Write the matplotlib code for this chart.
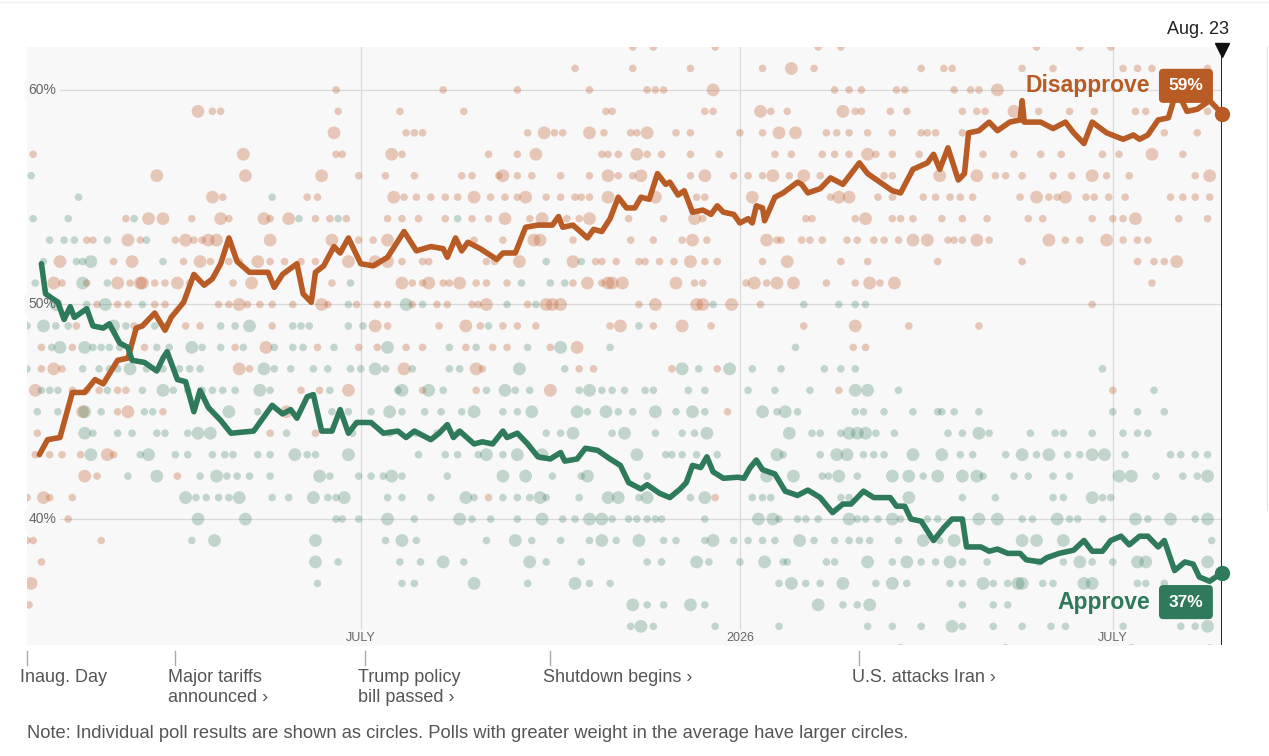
import numpy as np
import matplotlib.pyplot as plt
import matplotlib.transforms as mtransforms
from matplotlib.lines import Line2D

plt.rcParams['font.family'] = ['Liberation Sans', 'DejaVu Sans']

# --- 1. Data ---
start = np.datetime64('2025-01-20')
end_date = np.datetime64('2026-08-23')

# polling averages (days since inauguration, percent)
dis_days = [6, 10, 16, 22, 28, 33, 37, 44, 49, 53, 56, 62, 67, 70, 76, 81, 86, 90, 94, 98,
            102, 108, 117, 120, 124, 131, 134, 138, 140, 144, 149, 152, 156, 162, 168, 175,
            183, 189, 196, 202, 204, 208, 211, 214, 220, 228, 231, 237, 242, 248, 255, 258,
            260, 265, 272, 275, 279, 283, 287, 291, 295, 298, 302, 306, 310, 312, 316, 319,
            323, 328, 332, 335, 338, 343, 346, 350, 352, 354, 357, 358, 363, 367, 374, 376,
            379, 385, 390, 396, 404, 408, 414, 420, 424, 430, 437, 440, 443, 447, 452, 455,
            457, 462, 467, 471, 477, 482, 483, 484, 492, 498, 504, 508, 513, 517, 524, 532,
            537, 540, 544, 549, 554, 558, 563, 568, 574, 580]
dis_vals = [43.0, 43.7, 43.8, 45.9, 45.9, 46.5, 46.3, 47.4, 47.5, 48.9, 49.0, 49.6, 48.8, 49.4,
            50.1, 51.4, 50.9, 51.2, 51.9, 53.1, 52.0, 51.5, 51.5, 50.8, 51.4, 51.9, 50.5, 50.1,
            51.5, 51.8, 52.7, 52.4, 53.1, 51.9, 51.8, 52.2, 53.4, 52.5, 52.7, 52.6, 52.2, 53.1,
            52.5, 52.9, 52.6, 52.1, 52.4, 52.4, 53.6, 53.7, 53.7, 54.1, 53.6, 53.7, 53.1, 53.5,
            53.4, 54.0, 55.0, 54.5, 54.5, 55.0, 54.9, 56.1, 55.6, 55.7, 55.1, 55.3, 54.3, 54.4,
            54.2, 54.6, 54.3, 54.2, 53.8, 54.0, 53.8, 54.6, 54.5, 53.9, 55.0, 55.2, 55.7, 55.6,
            55.2, 55.4, 55.9, 55.6, 56.6, 56.1, 55.7, 55.3, 55.2, 56.3, 56.6, 57.0, 56.3, 57.3,
            55.8, 56.1, 58.0, 58.1, 58.5, 58.1, 58.5, 58.6, 59.5, 58.5, 58.5, 58.2, 58.5, 58.0,
            57.5, 58.5, 58.0, 57.7, 57.9, 57.7, 57.9, 58.6, 58.7, 60.0, 59.0, 59.1, 59.5, 58.9]

app_days = [7, 9, 15, 18, 21, 23, 29, 32, 37, 40, 45, 49, 51, 57, 63, 66, 68, 73, 77, 81, 84,
            88, 94, 99, 110, 119, 124, 128, 131, 136, 139, 143, 148, 152, 156, 160, 167, 173,
            180, 184, 188, 196, 200, 204, 207, 210, 217, 221, 226, 231, 233, 238, 243, 248,
            254, 259, 261, 267, 271, 277, 283, 288, 292, 298, 301, 307, 312, 317, 320, 323,
            327, 330, 333, 338, 345, 348, 351, 354, 357, 363, 368, 374, 379, 385, 391, 396,
            400, 406, 411, 419, 422, 426, 429, 434, 440, 445, 449, 454, 456, 463, 467, 471,
            476, 482, 485, 492, 495, 501, 508, 513, 517, 522, 526, 531, 535, 540, 544, 549,
            552, 557, 562, 566, 569, 574, 580]
app_vals = [51.9, 50.5, 50.1, 49.3, 49.9, 49.4, 49.8, 49.0, 48.9, 49.1, 48.2, 48.0, 47.4, 47.3,
            46.9, 47.5, 47.8, 46.5, 46.4, 45.0, 46.0, 45.2, 44.6, 44.0, 44.1, 45.3, 44.9, 45.1,
            44.7, 45.7, 45.8, 44.1, 44.1, 45.1, 44.0, 44.5, 44.5, 44.0, 44.1, 43.8, 44.1, 43.7,
            44.0, 44.4, 43.8, 44.1, 43.5, 43.6, 43.5, 44.1, 43.8, 44.0, 43.5, 42.9, 42.8, 43.1,
            42.7, 42.8, 43.3, 43.2, 42.8, 42.5, 41.7, 41.4, 41.6, 41.2, 41.0, 41.4, 41.7, 42.5,
            42.4, 42.9, 42.2, 41.9, 41.95, 41.9, 42.4, 42.75, 42.3, 42.1, 41.3, 41.1, 41.35,
            41.0, 40.3, 40.7, 40.7, 41.3, 41.0, 41.0, 40.6, 40.6, 40.0, 39.9, 39.0, 39.6, 40.0,
            40.0, 38.7, 38.7, 38.5, 38.6, 38.4, 38.4, 38.1, 38.0, 38.2, 38.4, 38.55, 39.0, 38.5,
            38.5, 39.0, 39.2, 38.8, 39.2, 39.2, 38.7, 39.0, 37.6, 38.0, 37.9, 37.3, 37.1, 37.5]

# latest values shown in the labels
dis_latest = 59
app_latest = 37

# individual polls: percent -> (normal weight days, high weight days)
dis_polls = {
    62: ([294, 304, 334, 384, 395, 490, 511, 526], []),
    61: ([266, 294, 322, 357, 382, 434, 445, 449, 483, 498, 532, 539, 546, 573], [371]),
    60: ([150, 202, 238, 273, 301, 305, 309, 392, 399, 405, 422, 426, 450, 458, 462], [333, 471]),
    59: ([90, 94, 151, 181, 212, 281, 284, 329, 333, 361, 369, 402, 405, 419, 427, 454, 461,
          465, 491, 506, 518, 538, 543, 573], [83, 356, 396, 479]),
    58: ([184, 188, 192, 243, 256, 260, 280, 293, 296, 315, 322, 346, 357, 388, 393, 399, 408,
          420, 434, 437, 441, 454, 552, 568], [149, 251, 273, 301, 365, 373]),
    57: ([3, 150, 153, 182, 224, 238, 279, 282, 287, 301, 308, 322, 336, 363, 371, 386, 392,
          399, 412, 420, 433, 464, 479, 492, 502, 522, 530, 561], [105, 177, 247, 296, 408, 546]),
    56: ([161, 174, 188, 211, 216, 229, 238, 245, 259, 273, 287, 294, 322, 343, 350, 357, 370,
          385, 416, 420, 470, 475, 483, 498, 507, 524, 535, 567],
         [63, 106, 143, 231, 282, 298, 329, 362, 377, 443, 461, 517, 574]),
    55: ([95, 136, 141, 183, 189, 196, 203, 209, 225, 232, 238, 252, 259, 266, 269, 273, 325,
          329, 390, 413, 420, 435, 441, 448, 453, 459, 482, 496, 500, 514, 518, 525, 533, 555,
          561, 567, 574], [90, 178, 217, 242, 282, 305, 352, 394, 399, 490, 504]),
    54: ([48, 80, 98, 118, 140, 147, 155, 175, 182, 190, 203, 216, 224, 244, 262, 268, 292, 309,
          328, 378, 381, 402, 420, 424, 430, 444, 454, 466, 486, 493, 517, 527, 532, 559, 573],
         [59, 66, 94, 115, 127, 232, 250, 273, 324, 407, 538]),
    53: ([29, 32, 55, 72, 81, 85, 161, 168, 217, 231, 265, 293, 304, 318, 330, 364, 366, 376,
          380, 386, 398, 403, 411, 416, 423, 447, 450, 454, 467, 504, 511, 532, 539, 544],
         [49, 77, 88, 92, 118, 148, 175, 246, 249, 323, 359, 430, 437, 461, 496, 524]),
    52: ([42, 76, 89, 98, 103, 118, 125, 133, 140, 182, 192, 195, 223, 227, 276, 279, 286, 297,
          300, 307, 314, 329, 335, 357, 395, 408, 442, 483, 539, 547, 552],
         [16, 51, 84, 112, 156, 169, 175, 239, 265, 322, 369, 558]),
    51: ([17, 29, 50, 62, 67, 79, 100, 148, 187, 192, 202, 205, 218, 223, 233, 265, 279, 324,
          328, 349, 359, 388, 402, 414, 546],
         [13, 44, 55, 56, 73, 109, 182, 195, 210, 272, 282, 284, 289, 315, 353, 364, 372, 409, 421]),
    50: ([34, 44, 49, 62, 67, 93, 98, 107, 113, 119, 129, 146, 160, 170, 175, 187, 199, 204, 216,
          219, 243, 297, 356, 517], [103, 143, 223, 252, 255, 259, 305, 325, 328, 342]),
    49: ([24, 52, 67, 77, 84, 119, 175, 200, 220, 231, 238, 247, 283, 304, 332, 377, 428, 462],
         [169, 213, 288, 318, 402]),
    48: ([7, 22, 50, 57, 101, 141, 161, 170, 184, 192, 213, 226, 233, 254, 401, 407], [116, 267]),
    47: ([7, 17, 108, 221, 268, 275, 313, 335], [13, 103, 183, 218]),
    46: ([22, 29, 35, 44, 48, 133, 142, 192, 218, 394, 527], [4, 156, 254]),
    45: ([44, 66, 340], [27, 49, 126]),
    44: ([5, 118, 140], []),
    43: ([4, 11, 17, 26, 42], [39]),
    42: ([34, 73], [28]),
    41: ([0, 11, 22, 224, 334], [8]),
    40: ([20], []),
    39: ([0, 3, 36], []),
    38: ([7], []),
    37: ([], [2]),
    36: ([1], []),
}

app_polls = {
    56: ([2], []),
    55: ([25, 119], []),
    54: ([3, 20, 52, 132, 151, 209], []),
    53: ([11, 18, 23, 39, 58], []),
    52: ([8, 24, 27, 66, 252, 269], [31]),
    51: ([4, 39, 157, 240, 254, 261], [27]),
    50: ([29, 56, 156, 192, 233, 247, 333, 377, 394, 402, 407], [14, 38, 184]),
    49: ([0, 14, 20, 48, 62, 94, 101, 129, 133, 137, 156, 163, 224, 297], [8, 42, 108]),
    48: ([12, 32, 36, 40, 45, 63, 69, 85, 94, 105, 120, 129, 134, 149, 205, 218, 243, 283, 373],
         [16, 28, 80, 175, 259]),
    47: ([0, 27, 35, 40, 44, 58, 66, 74, 79, 84, 120, 128, 139, 146, 157, 162, 174, 187, 205,
          210, 261, 326, 352, 366, 387, 395, 402, 522], [50, 115, 169, 239, 318, 341]),
    46: ([7, 11, 15, 39, 56, 71, 78, 85, 90, 95, 101, 118, 147, 180, 202, 223, 237, 244, 268,
          279, 284, 290, 300, 304, 321, 329, 350, 363, 380, 423, 547],
         [66, 113, 182, 195, 232, 273, 402, 408]),
    45: ([5, 15, 36, 57, 61, 112, 148, 156, 167, 182, 193, 201, 211, 231, 238, 272, 287, 294,
          315, 329, 364, 374, 402, 406, 416, 430, 442, 444, 450, 462, 527, 539, 552],
         [28, 98, 176, 217, 245, 267, 281, 305, 323, 357, 368]),
    44: ([32, 44, 51, 63, 67, 78, 126, 158, 176, 189, 199, 209, 252, 259, 284, 305, 318, 324,
          381, 385, 395, 412, 421, 447, 454, 467, 487, 499, 503, 517, 532, 539, 544],
         [28, 83, 89, 265, 290, 330, 370, 399, 403, 407, 462]),
    43: ([55, 72, 78, 90, 96, 100, 112, 118, 136, 140, 190, 203, 209, 219, 231, 310, 313, 318,
          325, 335, 367, 385, 406, 411, 416, 453, 459, 475, 490, 505, 511, 533, 555, 560, 567, 573],
         [31, 59, 130, 156, 223, 238, 250, 296, 364, 393, 398, 430, 444, 483, 496, 517, 523]),
    42: ([49, 84, 97, 102, 108, 118, 147, 161, 167, 173, 182, 204, 255, 269, 301, 386, 389, 403,
          435, 464, 479, 486, 498, 506, 548, 561, 568],
         [63, 92, 142, 177, 231, 242, 272, 359, 372, 394, 420, 428, 442, 454, 461, 530, 536, 573]),
    41: ([82, 87, 93, 98, 119, 127, 146, 150, 175, 182, 196, 217, 231, 238, 244, 252, 268, 297,
          322, 352, 357, 361, 395, 399, 454, 470, 498, 503, 522, 526],
         [77, 103, 139, 154, 213, 249, 282, 287, 301, 329, 428, 517]),
    40: ([150, 153, 161, 188, 216, 225, 238, 260, 266, 284, 292, 296, 301, 305, 308, 329, 365,
          374, 378, 384, 403, 407, 413, 424, 437, 442, 483, 488, 506, 510, 522, 544, 567],
         [83, 106, 175, 210, 250, 273, 279, 355, 362, 399, 420, 462, 471, 500, 538, 555, 573]),
    39: ([80, 174, 189, 223, 245, 259, 273, 286, 309, 315, 329, 343, 350, 357, 363, 382, 392,
          399, 404, 409, 423, 443, 575],
         [91, 140, 182, 237, 279, 297, 333, 375, 435, 450, 483, 490, 503]),
    38: ([151, 181, 191, 212, 252, 269, 301, 308, 331, 346, 367, 369, 388, 392, 420, 434, 441,
          454, 466, 491, 503, 517, 527],
         [140, 202, 244, 325, 358, 408, 427, 448, 511, 539, 543, 573]),
    37: ([141, 182, 188, 243, 273, 283, 365, 378, 385, 412, 427, 448, 454, 469, 476, 493, 498,
          539, 543, 552], [217, 266, 371, 396, 420, 464, 481, 483, 513, 517]),
    36: ([301, 309, 329, 396, 403, 454, 469, 476], [294, 322, 384, 409]),
    35: ([293, 304, 334, 365, 408, 420, 434, 454, 469, 483, 497, 504, 532, 560, 567], [298, 449, 573]),
    34: ([424, 475, 536, 574], []),
}

y_ticks = [40, 50, 60]
month_marks = ['2025-07-01', '2026-01-01', '2026-07-01']
month_labels = ['JULY', '2026', 'JULY']

event_dates = ['2025-01-20', '2025-04-02', '2025-07-03', '2025-10-01', '2026-02-28']
event_labels = ['Inaug. Day', 'Major tariffs\nannounced ›', 'Trump policy\nbill passed ›',
                'Shutdown begins ›', 'U.S. attacks Iran ›']

note = ('Note: Individual poll results are shown as circles. '
        'Polls with greater weight in the average have larger circles.')

DIS = '#b85b24'
APP = '#2e7a5a'
BG = '#f8f8f8'


def day(s):
    return int((np.datetime64(s) - start) / np.timedelta64(1, 'D'))


last_day = day(end_date)

# --- 2. Figure ---
W, H = 1269, 756
fig = plt.figure(figsize=(W / 100, H / 100), dpi=100)
ax = fig.add_axes([27 / W, 1 - 645 / H, 1195 / W, 598 / H])
ax.set_facecolor(BG)
for s in ax.spines.values():
    s.set_visible(False)
ax.set_xticks([])
ax.set_yticks([])
ax.set_xlim(0, last_day)
ax.set_ylim(34.13, 62.0)

# grid
for v in y_ticks:
    ax.axhline(v, color='#dadada', lw=0.9, zorder=0)
    ax.text(0.6, v, f'{v}%', ha='left', va='center', fontsize=10, color='#666',
            bbox=dict(fc=BG, ec='none', pad=2.5), zorder=1)
for m, lab in zip(month_marks, month_labels):
    ax.axvline(day(m), color='#dadada', lw=0.9, zorder=0)
    ax.text(day(m), 34.45, lab, ha='center', va='center', fontsize=9, color='#666',
            bbox=dict(fc=BG, ec='none', pad=1.5), zorder=1)

# poll circles
for polls, col, alpha in [(dis_polls, '#c4693a', 0.34), (app_polls, APP, 0.27)]:
    xs, ys, ss = [], [], []
    for pct, (normal, large) in polls.items():
        for d in normal:
            xs.append(d); ys.append(pct); ss.append(30)
        for d in large:
            xs.append(d); ys.append(pct); ss.append(85)
    ax.scatter(xs, ys, s=ss, color=col, alpha=alpha, linewidths=0, zorder=2)

# averages
ax.plot(dis_days, dis_vals, color=DIS, lw=4.0, solid_joinstyle='round',
        solid_capstyle='round', zorder=4)
ax.plot(app_days, app_vals, color=APP, lw=4.0, solid_joinstyle='round',
        solid_capstyle='round', zorder=4)
ax.plot(dis_days[-1], dis_vals[-1], 'o', ms=10, color=DIS, zorder=6, clip_on=False)
ax.plot(app_days[-1], app_vals[-1], 'o', ms=10, color=APP, zorder=6, clip_on=False)

# end-date line
ax.axvline(last_day, color='#111', lw=1.3, zorder=5)
ax.plot([last_day], [61.85], marker='v', ms=10, color='#111', clip_on=False, zorder=6)
fig.text(1229 / W, 1 - 30 / H, 'Aug. 23', ha='right', va='center', fontsize=13, color='#222')

# series labels
box = dict(boxstyle='round,pad=0.55,rounding_size=0.25', ec='none')
ax.text(545, 60.19, 'Disapprove', ha='right', va='center', fontsize=16.5,
        fontweight='bold', color=DIS, zorder=7)
ax.text(562.5, 60.19, f'{dis_latest}%', ha='center', va='center', fontsize=12.5,
        fontweight='bold', color='white', bbox=dict(fc=DIS, **box), zorder=7)
ax.text(545, 36.13, 'Approve', ha='right', va='center', fontsize=16.5,
        fontweight='bold', color=APP, zorder=7)
ax.text(562.5, 36.13, f'{app_latest}%', ha='center', va='center', fontsize=12.5,
        fontweight='bold', color='white', bbox=dict(fc=APP, **box), zorder=7)

# event annotations below the chart
blend = mtransforms.blended_transform_factory(ax.transData, fig.transFigure)
for d, lab in zip(event_dates, event_labels):
    x = day(d)
    fig.add_artist(Line2D([x, x], [1 - 651 / H, 1 - 665 / H], transform=blend,
                          color='#aaa', lw=1))
    ax.annotate(lab, xy=(x, 1 - 669 / H), xycoords=blend, xytext=(-5, 0),
                textcoords='offset points', ha='left', va='top', fontsize=13,
                color='#555', linespacing=1.2, annotation_clip=False)

fig.text(27 / W, 1 - 733 / H, note, ha='left', va='center', fontsize=13.2, color='#555')

# page frame bits
fig.add_artist(Line2D([1267 / W, 1267 / W], [1 - 47 / H, 1 - 510 / H], color='#e6e6e6', lw=1))
fig.add_artist(Line2D([0, 1], [1 - 1.5 / H, 1 - 1.5 / H], color='#efefef', lw=1))

fig.savefig('out.png', dpi=100)
